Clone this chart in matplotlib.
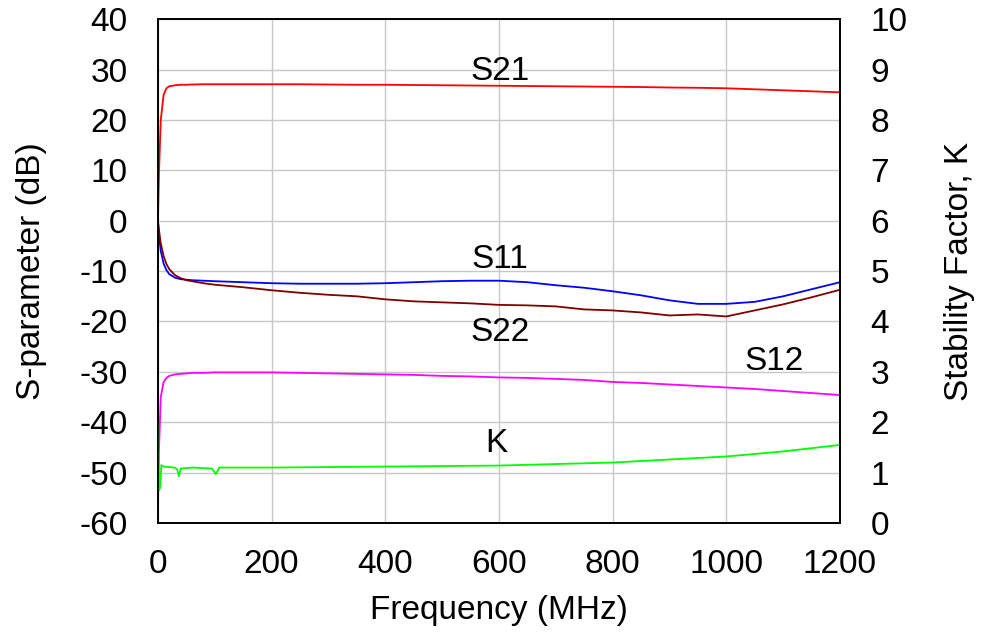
import matplotlib
matplotlib.use("Agg")
import matplotlib.pyplot as plt

plt.rcParams["font.family"] = ["Liberation Sans", "DejaVu Sans"]
plt.rcParams["axes.unicode_minus"] = False

# S-parameters (dB vs MHz)
freq = [0, 2, 5, 10, 15, 20, 30, 40, 50, 60, 80, 100, 150, 200, 250, 300, 350, 400,
        450, 500, 550, 600, 650, 700, 750, 800, 850, 900, 950, 1000, 1050, 1100, 1150, 1200]
s21 = [0, 10, 20, 25, 26.3, 26.7, 26.9, 27.0, 27.0, 27.05, 27.1, 27.1, 27.1, 27.1, 27.1, 27.05, 27.0, 27.0,
       26.95, 26.9, 26.85, 26.8, 26.75, 26.7, 26.65, 26.6, 26.55, 26.45, 26.4, 26.3, 26.1, 25.9, 25.7, 25.5]
s11 = [0, -3, -6, -8.5, -9.8, -10.6, -11.3, -11.6, -11.7, -11.8, -11.9, -12.0, -12.2, -12.4, -12.5, -12.5, -12.5, -12.4,
       -12.2, -12.0, -11.9, -11.9, -12.2, -12.8, -13.3, -14.0, -14.8, -15.8, -16.5, -16.5, -16.1, -15.0, -13.6, -12.2]
s22 = [0, -2, -4.5, -7, -8.6, -9.6, -10.8, -11.4, -11.8, -12.0, -12.4, -12.7, -13.2, -13.8, -14.3, -14.7, -15.0, -15.6,
       -16.0, -16.2, -16.4, -16.7, -16.8, -17.0, -17.6, -17.8, -18.2, -18.8, -18.6, -19.0, -17.8, -16.6, -15.2, -13.7]
s12 = [-57, -45, -35, -32, -31.2, -30.8, -30.5, -30.4, -30.3, -30.2, -30.2, -30.1, -30.1, -30.1, -30.2, -30.3, -30.4, -30.5,
       -30.6, -30.8, -30.9, -31.1, -31.2, -31.4, -31.6, -32.0, -32.2, -32.5, -32.8, -33.1, -33.4, -33.8, -34.2, -34.6]

# stability factor K (right axis)
k_freq = [0, 2, 4, 6, 10, 30, 34, 37, 40, 60, 95, 102, 108, 200, 400, 600, 700, 800, 900, 1000, 1100, 1200]
k_val = [2.0, 0.65, 0.7, 1.15, 1.12, 1.1, 1.06, 0.93, 1.08, 1.1, 1.08, 0.97, 1.1, 1.1, 1.12, 1.14, 1.17, 1.2,
         1.26, 1.32, 1.42, 1.55]

fig = plt.figure(figsize=(9.87, 6.32), dpi=100)
ax = fig.add_axes([0.160, 0.1725, 0.691, 0.797])
ax2 = ax.twinx()

lw = 1.3
ax.plot(freq, s21, color="#ff0000", lw=lw)
ax.plot(freq, s11, color="#0000ff", lw=lw)
ax.plot(freq, s22, color="#800000", lw=lw)
ax.plot(freq, s12, color="#ff00ff", lw=lw)
ax2.plot(k_freq, k_val, color="#00ff00", lw=lw)

ax.set_xlim(0, 1200)
ax.set_ylim(-60, 40)
ax2.set_ylim(0, 10)
ax.set_xticks(range(0, 1201, 200))
ax.set_yticks(range(-60, 41, 10))
ax2.set_yticks(range(0, 11, 1))
ax.grid(True, color="#c8c8c8", lw=1.0)
ax.set_axisbelow(True)

ax.tick_params(axis="y", length=0, pad=22, labelsize=24)
ax.tick_params(axis="x", length=0, pad=19, labelsize=24)
ax2.tick_params(length=0, pad=22, labelsize=24)
for a in (ax, ax2):
    for sp in a.spines.values():
        sp.set_linewidth(1.2)
        sp.set_color("black")

ax.set_xlabel("Frequency (MHz)", fontsize=24)
ax.set_ylabel("S-parameter (dB)", fontsize=24)
ax2.set_ylabel("Stability Factor, K", fontsize=24)
ax.xaxis.set_label_coords(0.5, -0.143)
ax.yaxis.set_label_coords(-0.163, 0.5)
ax2.yaxis.set_label_coords(1.153, 0.5)

labels = {"S21": (602, 27.9), "S11": (602, -9.3), "S22": (602, -23.8),
          "S12": (1085, -29.7), "K": (596, -45.9)}
for name, (x, y) in labels.items():
    ax.text(x, y, name, fontsize=24, ha="center", va="baseline")

fig.savefig("out.png", dpi=100)
